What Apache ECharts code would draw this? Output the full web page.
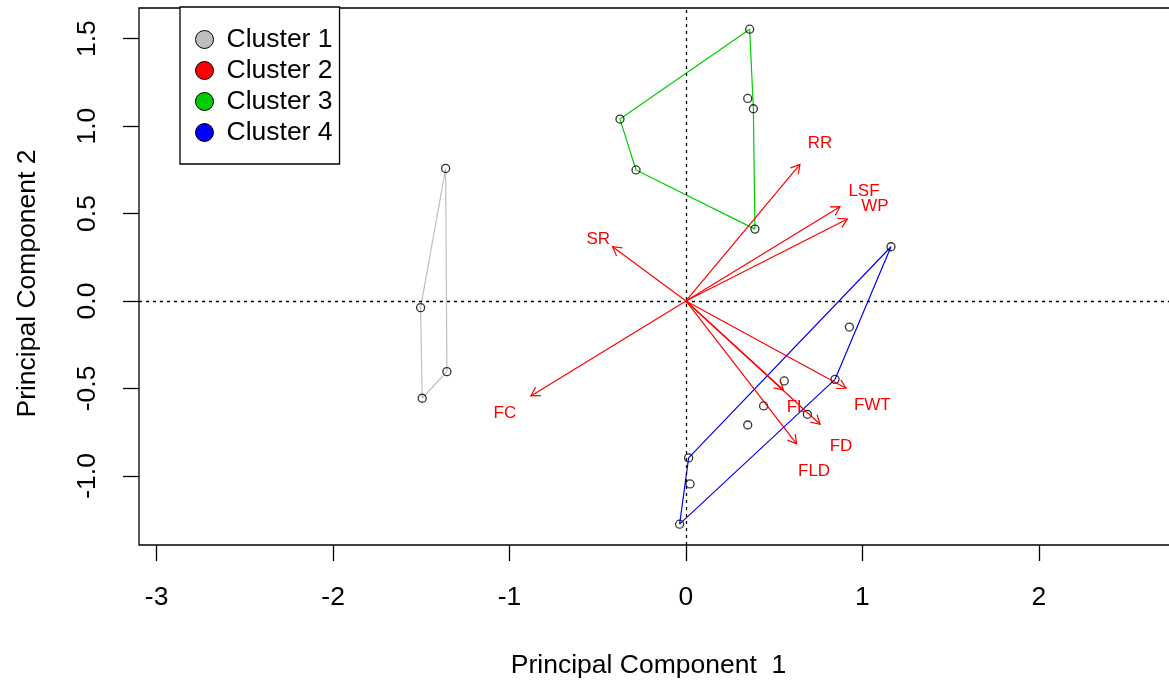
<!DOCTYPE html>
<html>
<head>
<meta charset="utf-8">
<script src="https://cdn.jsdelivr.net/npm/echarts@6/dist/echarts.min.js"></script>
<style>
html,body{margin:0;padding:0;background:#fff;}
#chart{width:1169px;height:680px;}
</style>
</head>
<body>
<div id="chart"></div>
<script>
// ---- data ----
const xTicks = [-3, -2, -1, 0, 1, 2];
const yTicks = [-1.0, -0.5, 0.0, 0.5, 1.0, 1.5];
const clusterNames = ['Cluster 1', 'Cluster 2', 'Cluster 3', 'Cluster 4'];
const clusterColors = ['#BEBEBE', '#FF0000', '#00CD00', '#0000FF'];

// observations (PC1, PC2)
const pointsX = [-1.362, -1.504, -1.355, -1.495,
                 0.361, 0.350, 0.382, -0.374, -0.283, 0.391,
                 1.162, 0.926, 0.845, 0.557, 0.440, 0.688, 0.350, 0.015, 0.023, -0.036];
const pointsY = [0.758, -0.038, -0.404, -0.556,
                 1.554, 1.158, 1.099, 1.040, 0.749, 0.411,
                 0.310, -0.149, -0.448, -0.457, -0.600, -0.648, -0.709, -0.897, -1.046, -1.276];

// convex hull vertices per cluster (closed)
const hull1X = [-1.362, -1.504, -1.495, -1.355, -1.362];
const hull1Y = [0.758, -0.038, -0.556, -0.404, 0.758];
const hull2X = [];
const hull2Y = [];
const hull3X = [0.361, -0.374, -0.283, 0.391, 0.382, 0.361];
const hull3Y = [1.554, 1.040, 0.749, 0.411, 1.099, 1.554];
const hull4X = [1.162, 0.015, -0.036, 0.845, 1.162];
const hull4Y = [0.310, -0.897, -1.276, -0.448, 0.310];

// variable loadings (arrow tips) and label positions
const varNames = ['RR', 'LSF', 'WP', 'SR', 'FC', 'FL', 'FD', 'FLD', 'FWT'];
const loadX = [0.646, 0.873, 0.915, -0.416, -0.879, 0.552, 0.760, 0.627, 0.907];
const loadY = [0.781, 0.539, 0.469, 0.310, -0.543, -0.509, -0.705, -0.817, -0.499];
const labelX = [0.760, 1.009, 1.071, -0.497, -1.026, 0.627, 0.879, 0.726, 1.056];
const labelY = [0.900, 0.625, 0.543, 0.353, -0.640, -0.610, -0.829, -0.971, -0.598];

// ---- chart ----
const FONT = 'Liberation Sans, Arial, sans-serif';
const zip = (xs, ys) => xs.map((x, i) => [x, ys[i]]);
const hulls = [zip(hull1X, hull1Y), zip(hull2X, hull2Y), zip(hull3X, hull3Y), zip(hull4X, hull4Y)];

const chart = echarts.init(document.getElementById('chart'), null, {renderer: 'canvas'});

const hullSeries = clusterNames.map((name, i) => ({
  name: name,
  type: 'line',
  data: hulls[i],
  showSymbol: false,
  symbol: 'none',
  color: clusterColors[i],
  lineStyle: {color: clusterColors[i], width: 1.2},
  silent: true,
  animation: false,
  z: 3
}));

const option = {
  animation: false,
  backgroundColor: '#fff',
  grid: {
    left: 139, top: 8, width: 1041, height: 537,
    show: true, borderColor: '#000', borderWidth: 1.3, backgroundColor: 'transparent',
    containLabel: false, outerBoundsMode: 'none'
  },
  legend: {
    orient: 'vertical',
    left: 180, top: 7,
    data: clusterNames.map(n => ({name: n, icon: 'circle'})),
    itemWidth: 18, itemHeight: 18, itemGap: 4,
    padding: [19, 7, 18, 15],
    borderColor: '#000', borderWidth: 1.3,
    backgroundColor: '#fff',
    itemStyle: {borderColor: '#000', borderWidth: 1},
    textStyle: {fontSize: 26.5, color: '#000', fontFamily: FONT, lineHeight: 24, padding: [0, 0, 0, 8]},
    selectedMode: false
  },
  xAxis: {
    type: 'value', min: -3.1, max: 2.8,
    splitLine: {show: false},
    axisLine: {show: false, onZero: false},
    axisTick: {show: true, customValues: xTicks, length: 16, lineStyle: {color: '#000', width: 1.3}},
    axisLabel: {customValues: xTicks, fontSize: 26.5, color: '#000', fontFamily: FONT, margin: 39},
    name: 'Principal Component  1', nameLocation: 'middle', nameGap: 107,
    nameTextStyle: {fontSize: 26.5, color: '#000', fontFamily: FONT, padding: [0, 22, 0, 0]}
  },
  yAxis: {
    type: 'value', min: -1.395, max: 1.675,
    splitLine: {show: false},
    axisLine: {show: false, onZero: false},
    axisTick: {show: true, customValues: yTicks, length: 16, lineStyle: {color: '#000', width: 1.3}},
    axisLabel: {customValues: yTicks, fontSize: 26.5, color: '#000', fontFamily: FONT, margin: 38, rotate: 90,
      formatter: v => Number(v).toFixed(1)},
    name: 'Principal Component 2', nameLocation: 'middle', nameGap: 98, nameRotate: 90,
    nameTextStyle: {fontSize: 26.5, color: '#000', fontFamily: FONT, padding: [0, 14, 0, 0]}
  },
  series: [
    ...hullSeries,
    {
      name: 'obs',
      type: 'scatter',
      data: zip(pointsX, pointsY),
      symbol: 'circle',
      symbolSize: 8,
      itemStyle: {color: 'rgba(0,0,0,0)', borderColor: '#000', borderWidth: 1.3},
      silent: true,
      z: 4,
      markLine: {
        silent: true, symbol: 'none', animation: false,
        label: {show: false},
        lineStyle: {color: '#000', type: [3, 4], width: 1.3},
        data: [{xAxis: 0}, {yAxis: 0}]
      }
    },
    {
      name: 'loadings',
      type: 'custom',
      coordinateSystem: 'cartesian2d',
      data: varNames.map((n, i) => [loadX[i], loadY[i], labelX[i], labelY[i]]),
      silent: true,
      z: 5,
      renderItem: function (params, api) {
        const o = api.coord([0, 0]);
        const p = api.coord([api.value(0), api.value(1)]);
        const l = api.coord([api.value(2), api.value(3)]);
        const ang = Math.atan2(p[1] - o[1], p[0] - o[0]);
        const hl = 10, ha = Math.PI / 6;
        const a1 = [p[0] - hl * Math.cos(ang - ha), p[1] - hl * Math.sin(ang - ha)];
        const a2 = [p[0] - hl * Math.cos(ang + ha), p[1] - hl * Math.sin(ang + ha)];
        const st = {stroke: '#FF0000', lineWidth: 1.2, fill: null};
        return {
          type: 'group',
          children: [
            {type: 'line', shape: {x1: o[0], y1: o[1], x2: p[0], y2: p[1]}, style: st},
            {type: 'polyline', shape: {points: [a1, p, a2]}, style: st},
            {type: 'text', x: l[0], y: l[1], style: {
              text: varNames[params.dataIndex], fill: '#FF0000', font: '17px ' + FONT,
              align: 'center', verticalAlign: 'middle'}}
          ]
        };
      }
    }
  ]
};
chart.setOption(option);
</script>
</body>
</html>
